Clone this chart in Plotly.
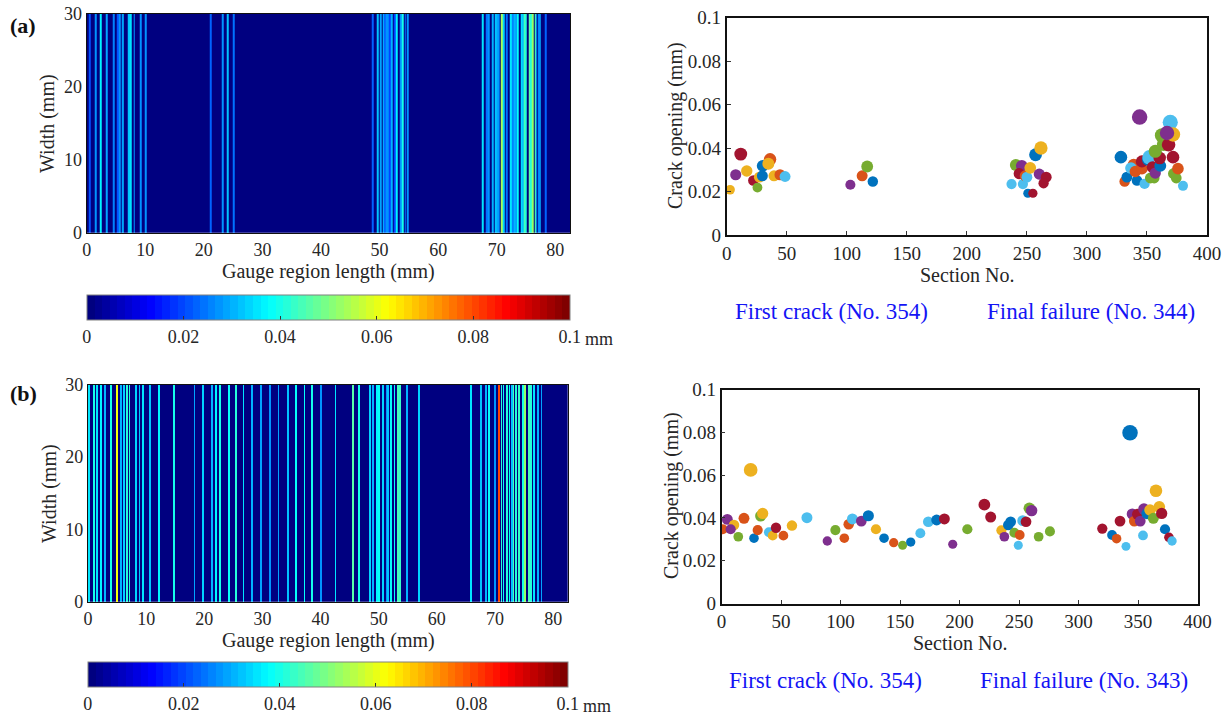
import numpy as np
import plotly.graph_objects as go

W, H = 1228, 717
FONT = "Liberation Serif"
TXT = "#262626"

# MATLAB default colour order (index used in the colour lists below)
PALETTE = ["#0072BD", "#D95319", "#EDB120", "#7E2F8E", "#77AC30", "#4DBEEE", "#A2142F"]

# ---------------- data (a) ----------------
sec_a = [2.8, 7.5, 11.7, 16.7, 22.2, 25.6, 27.2, 30.0, 29.7, 36.1, 34.7, 39.4, 44.4, 48.6,
         103.0, 112.8, 117.0, 121.7,
         237.2, 240.8, 245.8, 243.6, 246.7, 248.6, 250.0, 250.8, 255.0, 252.8, 257.2, 261.7,
         260.3, 266.1, 263.9,
         328.3, 331.4, 333.3, 338.9, 336.7, 341.7, 340.3, 345.8, 345.8, 348.0, 351.0, 352.0,
         351.4, 354.7, 352.8, 356.0, 356.9, 361.1, 360.6, 356.9, 362.5, 363.9, 368.0, 369.4,
         371.7, 366.7, 371.7, 372.2, 374.4, 375.8, 380.0, 343.9]
open_a = [0.0208, 0.0277, 0.0372, 0.0294, 0.0251, 0.0218, 0.0266, 0.0318, 0.0272, 0.0348,
          0.0328, 0.0272, 0.0277, 0.0269,
          0.0231, 0.0272, 0.0315, 0.0246,
          0.0234, 0.0322, 0.0318, 0.0282, 0.0234, 0.0272, 0.0266, 0.0192, 0.0192, 0.0309,
          0.0369, 0.0400, 0.0280, 0.0266, 0.0238,
          0.0358, 0.0246, 0.0266, 0.0323, 0.0308, 0.0251, 0.0292, 0.0305, 0.0338, 0.0235,
          0.0347, 0.0362, 0.0354, 0.0312, 0.0262, 0.0262, 0.0285, 0.0318, 0.0354, 0.0385,
          0.0458, 0.0418, 0.0415, 0.0518, 0.0462, 0.0469, 0.0358, 0.0282, 0.0262, 0.0305,
          0.0226, 0.0542]
col_a = [2, 3, 6, 2, 6, 4, 2, 0, 0, 1, 2, 2, 1, 5,
         3, 1, 4, 0,
         5, 4, 3, 6, 5, 1, 5, 0, 6, 2, 0, 2, 3, 6, 6,
         0, 1, 0, 1, 5, 0, 1, 1, 6, 5, 0, 5, 5, 6, 4, 4, 3, 0, 6, 4, 4, 4, 6, 5,
         2, 3, 6, 4, 4, 1, 5, 3]

# ---------------- data (b) ----------------
sec_b = [1.0, 4.9, 10.5, 7.7, 14.1, 18.9, 24.5, 27.3, 30.4, 32.9, 34.6, 39.9, 43.0, 45.8,
         52.0, 59.2, 71.8, 88.9, 95.7, 103.2, 106.9, 110.0, 117.5, 123.4, 129.8, 136.6,
         144.7, 152.2, 159.0, 167.1, 173.8, 180.8, 187.3, 194.3, 206.6, 220.9, 226.2,
         235.2, 237.7, 241.0, 243.0, 246.1, 249.4, 250.6, 253.1, 255.9, 258.7, 260.6,
         266.5, 276.0,
         320.0, 328.2, 332.0, 334.9, 339.9, 345.2, 346.9, 349.7, 351.9, 354.2, 355.0,
         357.6, 360.1, 362.9, 365.1, 367.9, 369.9, 372.7, 376.0, 378.6, 343.3]
open_b = [0.0347, 0.0393, 0.0367, 0.0347, 0.0312, 0.0398, 0.0624, 0.0305, 0.0343, 0.0409,
          0.0421, 0.0333, 0.0317, 0.0354, 0.0317, 0.0364, 0.0401, 0.0292, 0.0343, 0.0305,
          0.0370, 0.0395, 0.0385, 0.0410, 0.0347, 0.0305, 0.0284, 0.0272, 0.0287, 0.0328,
          0.0382, 0.0390, 0.0395, 0.0277, 0.0347, 0.0462, 0.0404, 0.0342, 0.0312, 0.0367,
          0.0382, 0.0331, 0.0272, 0.0320, 0.0387, 0.0382, 0.0445, 0.0434, 0.0312, 0.0337,
          0.0350, 0.0320, 0.0303, 0.0385, 0.0267, 0.0418, 0.0385, 0.0417, 0.0385, 0.0318,
          0.0441, 0.0420, 0.0437, 0.0398, 0.0527, 0.0452, 0.0421, 0.0347, 0.0309, 0.0292,
          0.0798]
col_b = [1, 3, 2, 3, 4, 1, 2, 0, 1, 4, 2, 5, 2, 6, 1, 2, 5, 3, 4, 1, 1, 5, 3, 0, 2, 0,
         1, 4, 0, 5, 5, 0, 6, 3, 4, 6, 6, 2, 3, 0, 0, 4, 5, 1, 5, 6, 4, 3, 4, 4,
         6, 0, 1, 6, 5, 3, 1, 6, 3, 5, 3, 0, 2, 4, 2, 2, 6, 0, 6, 5, 0]

# axis tick values / labels
gauge_ticks = [0, 10, 20, 30, 40, 50, 60, 70, 80]
width_ticks = [0, 10, 20, 30]
section_ticks = [0, 50, 100, 150, 200, 250, 300, 350, 400]
open_ticks = [0, 0.02, 0.04, 0.06, 0.08, 0.1]
open_labels = ["0", "0.02", "0.04", "0.06", "0.08", "0.1"]
cbar_ticks = [0, 0.02, 0.04, 0.06, 0.08, 0.1]
cbar_labels = ["0", "0.02", "0.04", "0.06", "0.08", "0.1"]

MM_PER_SECTION = 0.206   # section pitch along the gauge length
CRACK_W = 0.32           # drawn width of one crack band (mm)
GAUGE_LEN = 82.5
SPECIMEN_W = 30


def jet(t):
    r = np.clip(1.5 - abs(4 * t - 3), 0, 1)
    g = np.clip(1.5 - abs(4 * t - 2), 0, 1)
    b = np.clip(1.5 - abs(4 * t - 1), 0, 1)
    return "rgb(%d,%d,%d)" % (round(r * 255), round(g * 255), round(b * 255))


NC = 64
jet_scale = []
for i in range(NC):
    c = jet(i / (NC - 1))
    jet_scale.append([i / NC, c])
    jet_scale.append([(i + 1) / NC, c])


def field(secs, vals):
    """Crack bands along the gauge length: returns brick edges (mm) and values."""
    items = sorted((s * MM_PER_SECTION, v) for s, v in zip(secs, vals))
    merged = []
    for p, v in items:
        if merged and p - merged[-1][0] < 0.05:
            merged[-1] = (merged[-1][0], max(merged[-1][1], v))
        else:
            merged.append((p, v))
    edges, z = [0.0], []
    n = len(merged)
    for i, (p, v) in enumerate(merged):
        lo = p - CRACK_W / 2
        hi = p + CRACK_W / 2
        if i > 0:
            lo = max(lo, (merged[i - 1][0] + p) / 2)
        if i < n - 1:
            hi = min(hi, (p + merged[i + 1][0]) / 2)
        if lo > edges[-1] + 1e-9:
            z.append(0.0)
            edges.append(lo)
        z.append(v)
        edges.append(hi)
    if edges[-1] < GAUGE_LEN + 1:
        z.append(0.0)
        edges.append(GAUGE_LEN + 1)
    return edges, [z]


def px(x):
    return x / W


def py(y):
    return 1 - y / H


fig = go.Figure()

xa, za = field(sec_a, open_a)
xb, zb = field(sec_b, open_b)

ROW_EDGES = [-1, SPECIMEN_W + 1]
fig.add_trace(go.Heatmap(x=xa, y=ROW_EDGES, z=za, coloraxis="coloraxis", zsmooth=False,
                         xaxis="x", yaxis="y", hoverinfo="skip"))
fig.add_trace(go.Heatmap(x=xb, y=ROW_EDGES, z=zb, coloraxis="coloraxis2", zsmooth=False,
                         xaxis="x3", yaxis="y3", hoverinfo="skip"))


def sizes(v):
    v = np.asarray(v)
    return list(15.5 * np.sqrt(v / v.max()))


fig.add_trace(go.Scatter(x=sec_a, y=open_a, mode="markers", xaxis="x2", yaxis="y2",
                         marker=dict(size=sizes(open_a), color=[PALETTE[c] for c in col_a],
                                     line=dict(width=0), opacity=1), hoverinfo="skip"))
fig.add_trace(go.Scatter(x=sec_b, y=open_b, mode="markers", xaxis="x4", yaxis="y4",
                         marker=dict(size=sizes(open_b), color=[PALETTE[c] for c in col_b],
                                     line=dict(width=0), opacity=1), hoverinfo="skip"))

tick_font_h = dict(family=FONT, size=18, color=TXT)
tick_font_s = dict(family=FONT, size=19, color=TXT)


def heat_axes(xdom, ydom, anchor_x, anchor_y):
    xa_ = dict(domain=xdom, anchor=anchor_y, range=[0, GAUGE_LEN], tickvals=gauge_ticks,
               ticks="", showline=True, mirror=True, linecolor="#111", linewidth=1.4,
               showgrid=False, zeroline=False, tickfont=tick_font_h)
    ya_ = dict(domain=ydom, anchor=anchor_x, range=[0, SPECIMEN_W], tickvals=width_ticks,
               ticks="", showline=True, mirror=True, linecolor="#111", linewidth=1.4,
               showgrid=False, zeroline=False, tickfont=tick_font_h)
    return xa_, ya_


def scat_axes(xdom, ydom, anchor_x, anchor_y):
    xa_ = dict(domain=xdom, anchor=anchor_y, range=[0, 400], tickvals=section_ticks,
               ticks="inside", ticklen=4, tickcolor="#333", showline=True, mirror=True,
               linecolor="#111", linewidth=1.6, showgrid=False, zeroline=False,
               tickfont=tick_font_s)
    ya_ = dict(domain=ydom, anchor=anchor_x, range=[0, 0.1], tickvals=open_ticks,
               ticktext=open_labels, ticks="inside", ticklen=4, tickcolor="#333",
               showline=True, mirror=True, linecolor="#111", linewidth=1.6,
               showgrid=False, zeroline=False, tickfont=tick_font_s)
    return xa_, ya_


x1, y1 = heat_axes([px(86.7), px(570)], [py(232.7), py(14)], "x", "y")
x2, y2 = scat_axes([px(726.7), px(1207)], [py(235), py(17.5)], "x2", "y2")
x3, y3 = heat_axes([px(88), px(567.7)], [py(601.7), py(384.7)], "x3", "y3")
x4, y4 = scat_axes([px(721.5), px(1197.5)], [py(603.5), py(389.5)], "x4", "y4")


def cbar(x0, x1_, ytop):
    return dict(orientation="h", x=px((x0 + x1_) / 2), xanchor="center",
                len=(x1_ - x0) / W, lenmode="fraction", y=py(ytop), yanchor="top",
                thickness=24.5, thicknessmode="pixels", xpad=0, ypad=0,
                outlinewidth=1, outlinecolor="#808080", tickvals=cbar_ticks,
                ticktext=cbar_labels, ticks="inside", ticklen=4, tickcolor="#333",
                tickfont=dict(family=FONT, size=18, color=TXT))


annotations = []


def ann(text, x, y, size, color=TXT, angle=0, xanchor="center", bold=False):
    annotations.append(dict(text=("<b>%s</b>" % text) if bold else text, x=px(x), y=py(y),
                            xref="paper", yref="paper", showarrow=False, textangle=angle,
                            xanchor=xanchor, yanchor="middle",
                            font=dict(family=FONT, size=size, color=color)))


ann("(a)", 23, 25, 22, color="#111", bold=True)
ann("(b)", 23, 393, 22, color="#111", bold=True)
ann("Width (mm)", 48, 123, 20, angle=-90)
ann("Width (mm)", 49, 493, 20, angle=-90)
ann("Gauge region length (mm)", 328, 271, 20)
ann("Gauge region length (mm)", 328, 640, 20)
ann("mm", 583, 339, 18, xanchor="left")
ann("mm", 581, 706, 18, xanchor="left")
ann("Crack opening (mm)", 675, 126, 20, angle=-90)
ann("Crack opening (mm)", 671, 496, 20, angle=-90)
ann("Section No.", 967, 275, 20)
ann("Section No.", 960, 643, 20)
BLUE = "#1414F5"
ann("First crack (No. 354)", 831, 311, 23, color=BLUE)
ann("Final failure (No. 344)", 1091, 311, 23, color=BLUE)
ann("First crack (No. 354)", 825, 680, 23, color=BLUE)
ann("Final failure (No. 343)", 1084, 680, 23, color=BLUE)

fig.update_layout(
    width=W, height=H, margin=dict(l=0, r=0, t=0, b=0, autoexpand=False),
    paper_bgcolor="white", plot_bgcolor="white", showlegend=False,
    xaxis=x1, yaxis=y1, xaxis2=x2, yaxis2=y2, xaxis3=x3, yaxis3=y3, xaxis4=x4, yaxis4=y4,
    coloraxis=dict(colorscale=jet_scale, cmin=0, cmax=0.1, colorbar=cbar(86.7, 570, 294.5)),
    coloraxis2=dict(colorscale=jet_scale, cmin=0, cmax=0.1, colorbar=cbar(88, 567.7, 661.5)),
    annotations=annotations,
    font=dict(family=FONT, color=TXT),
)

fig.write_html("out.html")
